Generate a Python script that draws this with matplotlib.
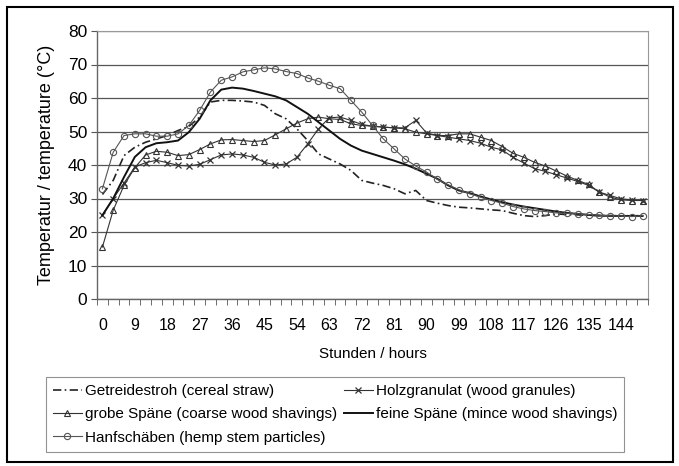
import numpy as np
import matplotlib as mpl
from matplotlib import pyplot as plt
from matplotlib.patches import Rectangle

# hours 0..150, every 3 h (category axis, labels every 9 h)
hours = list(range(0, 151, 3))
tick_hours = list(range(0, 145, 9))

straw = [31.2, 35.4, 42.8, 45.3, 46.8, 47.8, 48.8, 50.3, 51.5, 54.3,
         58.8, 59.3, 59.3, 59.1, 58.8, 57.8, 55.3, 53.8, 50.8, 47.3,
         43.3, 41.8, 40.3, 38.4, 35.4, 34.6, 33.9, 32.9, 31.4, 32.4,
         29.4, 28.6, 27.9, 27.4, 27.2, 26.9, 26.6, 26.4, 25.6, 24.9,
         24.6, 24.9, 25.4, 25.2, 25.1, 25.0, 24.9, 24.9, 24.8, 24.8,
         24.9]

granules = [25.0, 30.0, 34.6, 39.4, 40.7, 41.4, 40.7, 39.9, 39.7, 40.2,
            41.6, 43.0, 43.3, 43.0, 42.3, 40.8, 40.0, 40.3, 42.3, 46.3,
            50.8, 54.1, 54.3, 53.3, 52.1, 51.6, 51.3, 51.1, 51.1, 53.3,
            49.6, 48.8, 48.3, 47.8, 47.3, 46.5, 45.3, 44.5, 42.3, 40.6,
            38.9, 38.1, 37.1, 36.1, 35.1, 33.9, 31.9, 30.9, 29.9, 29.6,
            29.4]

coarse = [15.5, 26.5, 33.9, 39.2, 43.0, 44.1, 43.8, 42.8, 43.1, 44.6,
          46.3, 47.5, 47.6, 47.3, 47.0, 47.3, 49.0, 50.8, 52.5, 53.8,
          54.3, 53.8, 53.6, 52.3, 51.8, 51.6, 51.3, 51.1, 50.8, 49.8,
          49.3, 48.8, 48.8, 49.3, 49.3, 48.3, 47.3, 45.5, 43.5, 42.3,
          40.8, 39.7, 38.2, 36.7, 35.4, 34.2, 31.9, 30.4, 29.6, 29.4,
          29.4]

fine = [25.0, 30.0, 36.4, 42.4, 45.3, 46.5, 46.8, 47.3, 49.8, 53.8,
        59.3, 62.5, 63.1, 62.8, 62.1, 61.3, 60.5, 59.3, 57.3, 55.3,
        52.8, 50.3, 47.8, 45.8, 44.3, 43.3, 42.3, 41.3, 40.2, 38.9,
        37.4, 35.9, 33.9, 32.4, 31.6, 30.6, 29.7, 28.9, 28.2, 27.6,
        27.1, 26.6, 26.1, 25.7, 25.4, 25.1, 24.9, 24.8, 24.8, 24.8,
        24.8]

hemp = [32.9, 43.8, 48.8, 49.3, 49.3, 48.6, 48.6, 49.3, 51.8, 56.3,
        61.8, 65.3, 66.3, 67.8, 68.4, 69.0, 68.7, 67.9, 67.3, 66.0,
        65.0, 63.8, 62.8, 59.3, 55.8, 51.8, 47.8, 44.8, 41.8, 39.7,
        37.9, 35.7, 34.1, 32.6, 31.4, 30.4, 29.4, 28.6, 27.6, 26.9,
        26.4, 26.1, 25.7, 25.6, 25.4, 25.2, 25.0, 24.8, 24.8, 24.6,
        24.9]

labels = ['Getreidestroh (cereal straw)',
          'Holzgranulat (wood granules)',
          'grobe Späne (coarse wood shavings)',
          'feine Späne (mince wood shavings)',
          'Hanfschäben (hemp stem particles)']

plt.rcParams['font.family'] = ['Liberation Sans', 'DejaVu Sans']

W, H = 679, 466
fig = plt.figure(figsize=(W / 100, H / 100), dpi=100)

# axes box in pixel coords
x0, x1, y0, y1 = 97, 648, 31, 299
ax = fig.add_axes([x0 / W, 1 - y1 / H, (x1 - x0) / W, (y1 - y0) / H])

idx = np.arange(len(hours))

l_straw, = ax.plot(idx, straw, color='#222222', lw=1.2,
                   dashes=(5, 2, 1, 2), label=labels[0])
l_gran, = ax.plot(idx, granules, color='#333333', lw=0.8, marker='x',
                  markersize=4, mew=0.9, label=labels[1])
l_coarse, = ax.plot(idx, coarse, color='#333333', lw=0.8, marker='^',
                    markersize=4.5, mfc='none', mew=0.8, label=labels[2])
l_fine, = ax.plot(idx, fine, color='#111111', lw=1.4, label=labels[3])
l_hemp, = ax.plot(idx, hemp, color='#555555', lw=0.8, marker='o',
                  markersize=4.5, mfc='none', mew=0.8, label=labels[4])

ax.set_xlim(-0.5, len(hours) - 0.5)
ax.set_ylim(0, 80)
ax.set_yticks(range(0, 81, 10))
ax.yaxis.grid(True, color='#555555', lw=0.9)
ax.set_axisbelow(True)

tick_pos = [hours.index(h) for h in tick_hours]
ax.set_xticks(tick_pos)
ax.set_xticklabels([str(h) for h in tick_hours])
ax.set_xticks(np.arange(-0.5, len(hours), 1), minor=True)
ax.tick_params(axis='x', which='major', length=0, labelsize=11.5, pad=14)
ax.tick_params(axis='x', which='minor', length=4, direction='out',
               color='#555555')
ax.tick_params(axis='y', length=4, direction='out', labelsize=12.5,
               color='#555555', pad=3)

for s in ['top', 'right']:
    ax.spines[s].set_color('#999999')
    ax.spines[s].set_linewidth(0.8)
for s in ['left', 'bottom']:
    ax.spines[s].set_color('#666666')
    ax.spines[s].set_linewidth(1.0)

ax.set_ylabel('Temperatur / temperature (°C)', fontsize=13)
ax.yaxis.set_label_coords(-0.076, 0.5)
ax.set_xlabel('Stunden / hours', fontsize=11, labelpad=10)

leg = fig.legend([l_straw, l_coarse, l_hemp, l_gran, l_fine],
                 [labels[0], labels[2], labels[4], labels[1], labels[3]],
                 ncol=2, loc='upper left',
                 bbox_to_anchor=(46 / W, 1 - 377 / H),
                 frameon=True, fancybox=False, edgecolor='#777777',
                 fontsize=11, handlelength=1.9, handletextpad=0.2,
                 columnspacing=0.45, labelspacing=0.62,
                 borderpad=0.45, borderaxespad=0)
leg.get_frame().set_linewidth(0.8)

# outer frame
fig.patches.append(Rectangle((7 / W, 1 - 462 / H), 666 / W, 455 / H,
                             transform=fig.transFigure, fill=False,
                             ec='black', lw=1.5))

fig.savefig('out.png', dpi=100)
